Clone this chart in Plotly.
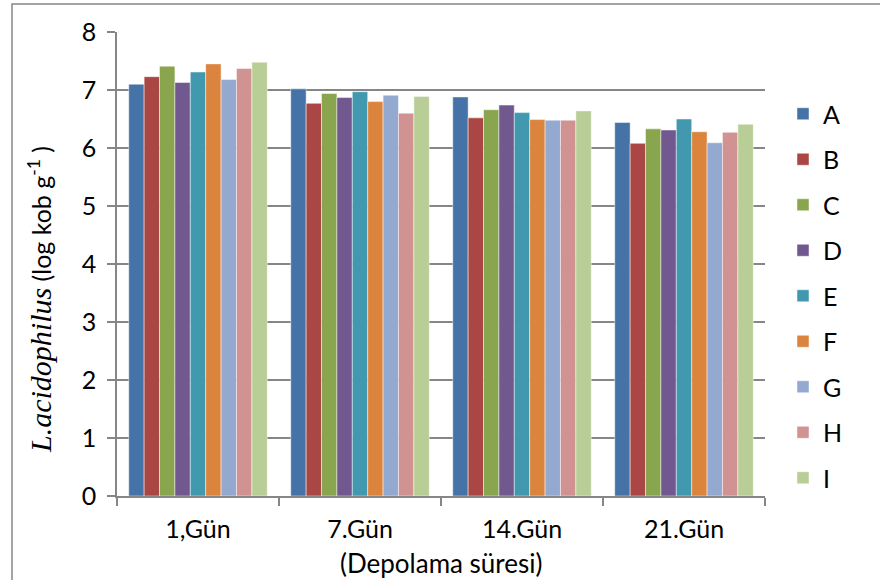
import plotly.graph_objects as go

categories = ["1,Gün", "7.Gün", "14.Gün", "21.Gün"]
series_names = ["A", "B", "C", "D", "E", "F", "G", "H", "I"]
A = [7.10, 7.02, 6.88, 6.44]
B = [7.23, 6.77, 6.52, 6.08]
C = [7.41, 6.94, 6.66, 6.33]
D = [7.13, 6.87, 6.74, 6.31]
E = [7.31, 6.97, 6.61, 6.50]
F = [7.45, 6.80, 6.49, 6.28]
G = [7.18, 6.91, 6.48, 6.09]
H = [7.37, 6.60, 6.48, 6.27]
I = [7.48, 6.89, 6.64, 6.41]
series_values = [A, B, C, D, E, F, G, H, I]
colors = ["#4572A7", "#AA4643", "#89A54E", "#71588F", "#4198AF",
          "#DB843D", "#93A9CF", "#D19392", "#B9CD96"]
y_ticks = [0, 1, 2, 3, 4, 5, 6, 7, 8]

FONT = "Lato, Carlito, Calibri, sans-serif"
FS = 25

fig = go.Figure()
for name, vals, col in zip(series_names, series_values, colors):
    fig.add_trace(go.Bar(
        x=categories, y=vals, name=name, legendgroup=name,
        marker=dict(color=col, line=dict(color="rgba(255,255,255,0.6)", width=0.8)),
    ))

W, H_ = 880, 580
L, R, T, Bm = 117, 115, 32, 84
pw, ph = W - L - R, H_ - T - Bm

def px(x):
    return (x - L) / pw

def py(y):
    return (H_ - Bm - y) / ph

fig.update_layout(
    width=W, height=H_,
    margin=dict(l=L, r=R, t=T, b=Bm),
    paper_bgcolor="white", plot_bgcolor="white",
    barmode="group", bargap=0.145, bargroupgap=0,
    font=dict(family=FONT, size=FS, color="#000000"),
    showlegend=True,
    legend=dict(x=px(783), xanchor="left", y=py(296), yanchor="middle",
                font=dict(family=FONT, size=FS, color="#000000"),
                tracegroupgap=10, itemwidth=30, bgcolor="rgba(0,0,0,0)"),
    xaxis=dict(
        showline=True, linecolor="#868686", linewidth=1.5,
        ticks="outside", tickson="boundaries", ticklen=8, tickcolor="#868686", tickwidth=1.5,
        tickfont=dict(family=FONT, size=FS, color="#000000"),
        ticklabelstandoff=10,
        showgrid=False,
    ),
    yaxis=dict(
        range=[0, 8], tickvals=y_ticks,
        showline=True, linecolor="#868686", linewidth=1.5,
        ticks="outside", ticklen=8, tickcolor="#868686", tickwidth=1.5,
        showgrid=True, gridcolor="#868686", gridwidth=1.5,
        tickfont=dict(family=FONT, size=FS, color="#000000"),
        ticklabelstandoff=6,
        zeroline=False,
    ),
    annotations=[
        dict(xref="paper", yref="paper", x=px(40), y=py(300), textangle=-90,
             showarrow=False, xanchor="center", yanchor="middle",
             text='<span style="font-family:Liberation Serif, Times New Roman, serif;font-size:30px"><i>L.acidophilus</i></span> (log kob g<sup>-1</sup> )',
             font=dict(family=FONT, size=FS, color="#000000")),
        dict(xref="paper", yref="paper", x=px(441), y=py(563),
             showarrow=False, xanchor="center", yanchor="middle",
             text="(Depolama süresi)",
             font=dict(family=FONT, size=26, color="#000000")),
    ],
    shapes=[
        dict(type="rect", xref="paper", yref="paper",
             x0=px(12), x1=px(890), y0=py(590), y1=py(4),
             line=dict(color="#868686", width=1.5), fillcolor="rgba(0,0,0,0)", layer="below"),
    ],
)

fig.write_html("out.html")
